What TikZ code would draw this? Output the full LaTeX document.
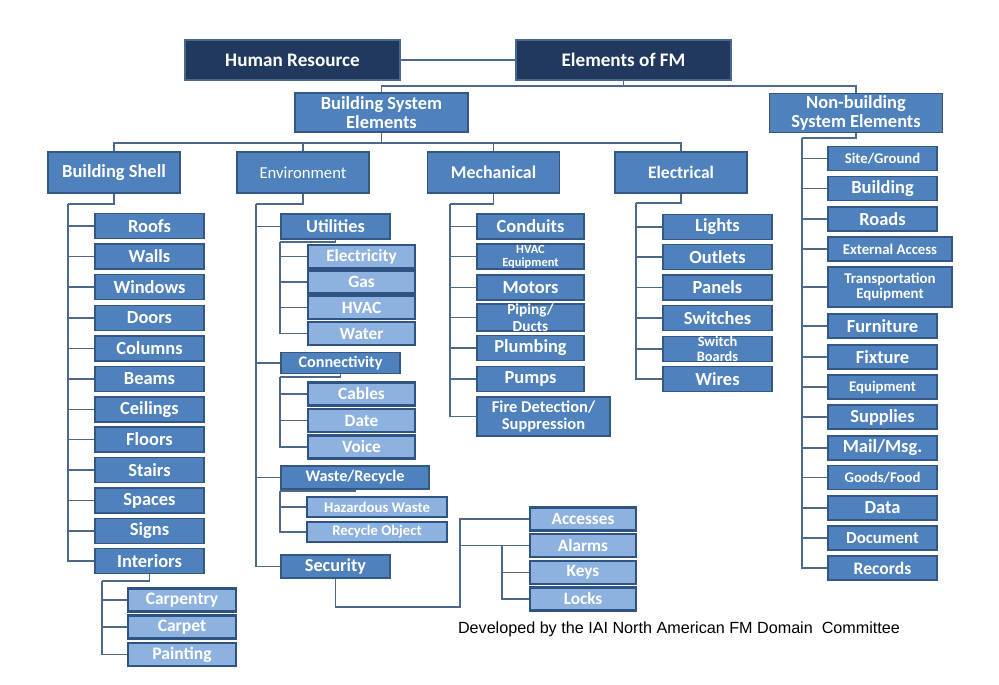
\documentclass[tikz,border=0pt]{standalone}
\usepackage{fontspec}
\setmainfont{Carlito}
\newfontfamily\footfont{Liberation Sans}
\definecolor{navyfill}{RGB}{33,57,94}
\definecolor{navyline}{RGB}{72,104,146}
\definecolor{bluefill}{RGB}{79,129,189}
\definecolor{blueline}{RGB}{52,88,134}
\definecolor{palefill}{RGB}{142,178,224}
\definecolor{paleline}{RGB}{46,84,132}
\definecolor{linkcol}{RGB}{78,104,136}
\tikzset{
  boxw/.style={minimum width=#1*0.02cm},
  boxh/.style={minimum height=#1*0.02cm},
  navybox/.style={draw=navyline, fill=navyfill, line width=0.8pt, text=white,
    font=\bfseries\fontsize{10.9}{12}\selectfont, inner sep=0pt, boxw=215, boxh=40},
  bluebox/.style={draw=blueline, fill=bluefill, line width=1pt, text=white, align=center,
    font=\bfseries\fontsize{10.5}{10.4}\selectfont, inner sep=0pt, boxw=109, boxh=25},
  palebox/.style={draw=paleline, fill=palefill, line width=1.4pt, text=white,
    font=\bfseries\fontsize{9.8}{10}\selectfont, inner sep=0pt, boxw=107, boxh=23},
  smalltext/.style={font=\bfseries\fontsize{8.4}{8.6}\selectfont},
  tinytext/.style={font=\bfseries\fontsize{7.1}{7.5}\selectfont},
  link/.style={draw=linkcol, line width=0.7pt},
}
\begin{document}
\begin{tikzpicture}[x=0.02cm, y=-0.02cm]
    \useasboundingbox (0,0) rectangle (999,685);

    % Zeichne die oberste Ebene
    \node[navybox] (hr) at (292.5,60) {Human Resource};
    \node[navybox] (efm) at (623.5,60) {Elements of FM};
    \draw[link] (hr.east) -- (efm.west);

    \node[bluebox, boxw=173, boxh=39] (bse) at (381.5,112.5) {Building System\\Elements};
    \node[bluebox, boxw=173, boxh=39] (nbse) at (856,113) {Non-building\\System Elements};
    \coordinate (topj) at (623.5,86);
    \draw[link] (efm.south) -- (topj);
    \draw[link] (bse.north) |- (topj) -| (nbse.north);

    % Zeichne die Gruppen der Gebaeudesysteme
    \node[bluebox, boxw=132, boxh=41] (bs) at (114,172.5) {Building Shell};
    \node[bluebox, boxw=132, boxh=41, font=\fontsize{9.5}{10}\selectfont] (env) at (303,172.5) {Environment};
    \node[bluebox, boxw=132, boxh=41, font=\bfseries\fontsize{10.2}{11}\selectfont] (mech) at (493.5,172.5) {Mechanical};
    \node[bluebox, boxw=132, boxh=41, font=\bfseries\fontsize{10}{11}\selectfont] (elec) at (681,172.5) {Electrical};
    \coordinate (bsej) at (381.5,143);
    \draw[link] (bse.south) -- (bsej);
    \foreach \n in {bs,env,mech,elec} {
        \draw[link] (bsej) -| (\n.north);
    }

    % Building Shell
    \coordinate (bsj) at (68,204);
    \draw[link] (bs.south) |- (bsj);
    \foreach \name/\txt/\y in {roofs/Roofs/226, walls/Walls/256.5, windows/Windows/287,
        doors/Doors/318, columns/Columns/348.5, beams/Beams/379, ceilings/Ceilings/409.5,
        floors/Floors/439.5, stairs/Stairs/470, spaces/Spaces/500.5, signs/Signs/531,
        interiors/Interiors/561} {
        \node[bluebox] (\name) at (149.5,\y) {\txt};
        \draw[link] (bsj) |- (\name.west);
    }
    \coordinate (inj) at (102,581);
    \draw[link] (interiors.south) |- (inj);
    \foreach \name/\txt/\y in {carpentry/Carpentry/600, carpet/Carpet/627, painting/Painting/654.5} {
        \node[palebox, boxw=108, font=\bfseries\fontsize{10}{11}\selectfont] (\name) at (182,\y) {\txt};
        \draw[link] (inj) |- (\name.west);
    }

    % Environment
    \coordinate (envj) at (256,204);
    \draw[link] (env.south) |- (envj);
    \node[bluebox, font=\bfseries\fontsize{10.4}{11}\selectfont] (util) at (335.5,226.5) {Utilities};
    \node[bluebox, boxw=119, boxh=21, font=\bfseries\fontsize{9.2}{10}\selectfont] (connect) at (340.5,363) {Connectivity};
    \node[bluebox, boxw=148, boxh=23, font=\bfseries\fontsize{9.2}{10}\selectfont] (waste) at (355,477.5) {Waste/Recycle};
    \node[bluebox, boxh=23, font=\bfseries\fontsize{10.4}{11}\selectfont] (sec) at (335.5,566.5) {Security};
    \foreach \n in {util,connect,waste,sec} {
        \draw[link] (envj) |- (\n.west);
    }

    \coordinate (utj) at (280,242);
    \draw[link] (util.south) |- (utj);
    \foreach \name/\txt/\y in {electr/Electricity/256.5, gas/Gas/282, hvac/HVAC/307.5, water/Water/333.5} {
        \node[palebox] (\name) at (361.5,\y) {\txt};
        \draw[link] (utj) |- (\name.west);
    }
    \coordinate (cnj) at (280,377);
    \draw[link] (connect.south) |- (cnj);
    \foreach \name/\txt/\y in {cables/Cables/394, date/Date/420.5, voice/Voice/447} {
        \node[palebox] (\name) at (361.5,\y) {\txt};
        \draw[link] (cnj) |- (\name.west);
    }
    \coordinate (wrj) at (280,491);
    \draw[link] (waste.south) |- (wrj);
    \foreach \name/\txt/\y in {hazard/Hazardous Waste/507, recyc/Recycle Object/532} {
        \node[palebox, boxw=140, boxh=20, smalltext] (\name) at (377,\y) {\txt};
        \draw[link] (wrj) |- (\name.west);
    }

    % Security mit Zugangselementen
    \foreach \name/\txt/\y in {acc/Accesses/519, alarms/Alarms/545.5, keys/Keys/572.5, locks/Locks/599} {
        \node[palebox, boxw=106] (\name) at (583,\y) {\txt};
    }
    \coordinate (secj) at (460,607);
    \coordinate (skj) at (502,545.5);
    \draw[link] (sec.south) |- (secj) |- (acc.west);
    \draw[link] (secj |- alarms.west) -- (alarms.west);
    \draw[link] (skj) |- (keys.west);
    \draw[link] (skj) |- (locks.west);

    % Mechanical
    \coordinate (mej) at (450,204);
    \draw[link] (mech.south) |- (mej);
    \node[bluebox, boxw=107] (conduits) at (530.5,226.5) {Conduits};
    \node[bluebox, boxw=107, tinytext] (hvaceq) at (530.5,256.5) {HVAC\\Equipment};
    \node[bluebox, boxw=107] (motors) at (530.5,287.5) {Motors};
    \node[bluebox, boxw=107, font=\bfseries\fontsize{8.7}{9.6}\selectfont] (piping) at (530.5,317.5) {Piping/\\Ducts};
    \node[bluebox, boxw=107] (plumbing) at (530.5,348) {Plumbing};
    \node[bluebox, boxw=107] (pumps) at (530.5,379) {Pumps};
    \node[bluebox, boxw=133, boxh=39, font=\bfseries\fontsize{9.4}{10.2}\selectfont] (fire) at (543.5,416.5) {Fire Detection/\\Suppression};
    \foreach \n in {conduits,hvaceq,motors,piping,plumbing,pumps,fire} {
        \draw[link] (mej) |- (\n.west);
    }

    % Electrical
    \coordinate (elj) at (636,203);
    \draw[link] (elec.south) |- (elj);
    \foreach \name/\txt/\y in {lights/Lights/227, outlets/Outlets/257, panels/Panels/287.5, switches/Switches/318} {
        \node[bluebox] (\name) at (717.5,\y) {\txt};
        \draw[link] (elj) |- (\name.west);
    }
    \node[bluebox, boxh=24, font=\bfseries\fontsize{8.2}{8.5}\selectfont] (boards) at (717.5,349) {Switch\\Boards};
    \node[bluebox] (wires) at (717.5,379) {Wires};
    \draw[link] (elj) |- (boards.west);
    \draw[link] (elj) |- (wires.west);

    % Non-building System Elements
    \coordinate (nbj) at (802,138);
    \draw[link] (nbse.south) |- (nbj);
    \foreach \name/\txt/\y/\fs in {site/{Site/Ground}/158.5/8.4, building/Building/188.5/10.5, roads/Roads/219/10.5,
        furniture/Furniture/326/10.5, fixture/Fixture/357/10.5, equip/Equipment/387/8.4,
        supplies/Supplies/417/10.5, mail/{Mail/Msg.}/448/10.5, goods/{Goods/Food}/477.5/8.4,
        data/Data/508/10.5, document/Document/538/9.6, records/Records/568/10} {
        \node[bluebox, boxh=24, font=\bfseries\fontsize{\fs}{11}\selectfont] (\name) at (882.5,\y) {\txt};
        \draw[link] (nbj) |- (\name.west);
    }
    \node[bluebox, boxw=124, boxh=24, smalltext] (extacc) at (890,249) {External Access};
    \node[bluebox, boxw=124, boxh=40, font=\bfseries\fontsize{8.5}{8.9}\selectfont] (transp) at (890,287) {Transportation\\Equipment};
    \draw[link] (nbj) |- (extacc.west);
    \draw[link] (nbj) |- (transp.west);

    % Quellenangabe
    \node[font=\footfont\fontsize{9.2}{11}\selectfont] (credit) at (679,629) {Developed by the IAI North American FM Domain\ \ Committee};
\end{tikzpicture}
\end{document}
